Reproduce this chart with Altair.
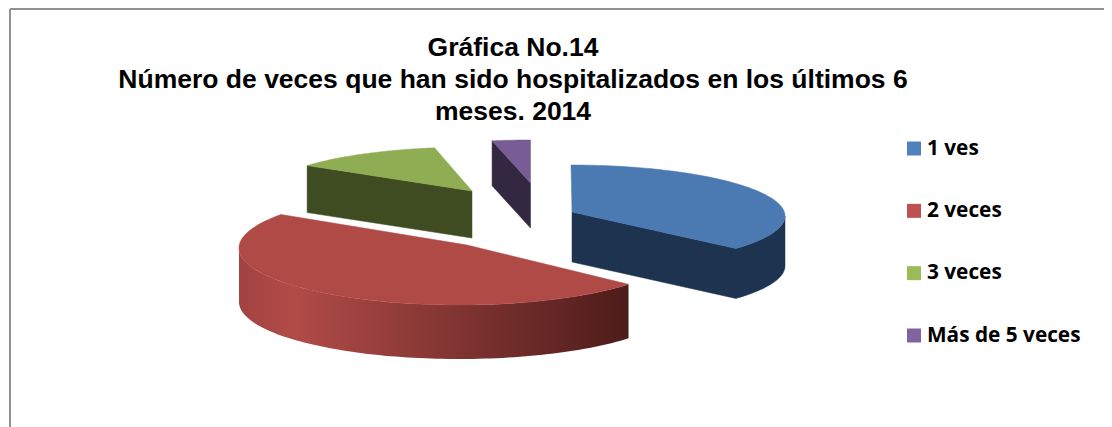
import math
import altair as alt

# ---- chart values ----
categories = ["1 ves", "2 veces", "3 veces", "Más de 5 veces"]
values = [36, 49, 12, 3]
title_lines = [
    "Gráfica No.14",
    "Número de veces que han sido hospitalizados en los últimos 6",
    "meses. 2014",
]
legend_colors = ["#4f81bd", "#c0504d", "#9bbb59", "#8064a2"]
top_colors = ["#4a7ab1", "#b04a47", "#8fad53", "#775c95"]
wall_colors = ["#1e3350", None, "#3f4c22", "#32283f"]

# ---- layout of the drawing (plot-area pixels): ellipse cx, cy, rx, ry, apex x, apex y, depth ----
M = 8
layout = [
    (571 - M, 216 - M, 214, 51, 572 - M, 212 - M, 50),
    (459 - M, 248 - M, 220, 57, 467 - M, 245 - M, 54),
    (473 - M, 192 - M, 205, 45, 472 - M, 191 - M, 47),
    (530.5 - M, 183 - M, 205, 43, 530.5 - M, 183 - M, 45),
]
W, H = 1096, 419

# cumulative angles (clockwise from twelve o'clock) from the values
total = sum(values)
starts, ends, acc = [], [], 0.0
for v in values:
    starts.append(acc)
    acc += v / total * 360
    ends.append(acc)


def pt(g, a):
    r = math.radians(a)
    return [g[0] + g[2] * math.sin(r), g[1] - g[3] * math.cos(r)]


def arc(g, a0, a1, n=90):
    return [pt(g, a0 + (a1 - a0) * i / n) for i in range(n + 1)]


def feature(points):
    ring = [list(p) for p in points] + [list(points[0])]
    return {"type": "Feature", "properties": {},
            "geometry": {"type": "Polygon", "coordinates": [ring]}}


def extrude(path, d):
    return path + [[x, y + d] for x, y in reversed(path)]


def shape(points, fill):
    return alt.Chart(alt.Data(values=[feature(points)])).mark_geoshape(
        fill=fill, stroke=fill if isinstance(fill, str) else None,
        strokeWidth=0.5 if isinstance(fill, str) else 0,
    ).project(type="identity", scale=1, translate=[0, 0])


layers = []
red_gradient = alt.Gradient(
    gradient="linear", x1=0, x2=1, y1=0, y2=0,
    stops=[
        alt.GradientStop(color="#a24341", offset=0),
        alt.GradientStop(color="#b14b48", offset=0.14),
        alt.GradientStop(color="#4d1c1a", offset=1),
    ],
)
for i in [3, 2, 1, 0]:
    g = layout[i]
    apex = [g[4], g[5]]
    a0, a1 = starts[i], ends[i]
    top = [apex] + arc(g, a0, a1)
    if i == 0:      # cut face plus the front of the rim
        wall = extrude([apex] + arc(g, a1, 90, 40), g[6])
    elif i == 1:    # front of the rim only
        wall = extrude(arc(g, a0, 270), g[6])
    else:           # cut face only
        wall = extrude([pt(g, a0), apex], g[6])
    layers.append(shape(wall, wall_colors[i] or red_gradient))
    layers.append(shape(top, top_colors[i]))

# frame
frame_left = alt.Chart(alt.Data(values=[{"k": 0}])).mark_rule(color="#929292", strokeWidth=2).encode(
    x=alt.value(2), y=alt.value(1), y2=alt.value(H))
frame_top = alt.Chart(alt.Data(values=[{"k": 0}])).mark_rule(color="#929292", strokeWidth=2).encode(
    x=alt.value(2), x2=alt.value(W), y=alt.value(1))

# legend
legend_rows = [{"cat": c} for c in categories]
legend_y = alt.Y("cat:N", sort=categories, axis=None,
                 scale=alt.Scale(type="point", domain=categories, range=[140.5, 327.5], padding=0))
swatches = alt.Chart(alt.Data(values=legend_rows)).mark_square(size=196, opacity=1).encode(
    x=alt.value(906),
    y=legend_y,
    color=alt.Color("cat:N", legend=None,
                    scale=alt.Scale(domain=categories, range=legend_colors)),
)
labels = alt.Chart(alt.Data(values=legend_rows)).mark_text(
    align="left", baseline="middle", font="Open Sans", fontWeight="bold", fontSize=20.8, color="#000000",
).encode(x=alt.value(919), y=legend_y, text="cat:N")

chart = alt.layer(*layers, frame_left, frame_top, swatches, labels).properties(
    width=W, height=H,
    padding=0,
    autosize=alt.AutoSizeParams(type="none"),
    title=alt.TitleParams(
        text=title_lines, font="Liberation Sans", fontWeight="bold", fontSize=26.5,
        color="#000000", lineHeight=32, anchor="middle", dx=-43, dy=117, offset=0,
        baseline="top", orient="top",
    ),
).configure_view(stroke=None).resolve_scale(y="shared")

chart.save("out.html", embed_options={"renderer": "svg", "actions": False})
